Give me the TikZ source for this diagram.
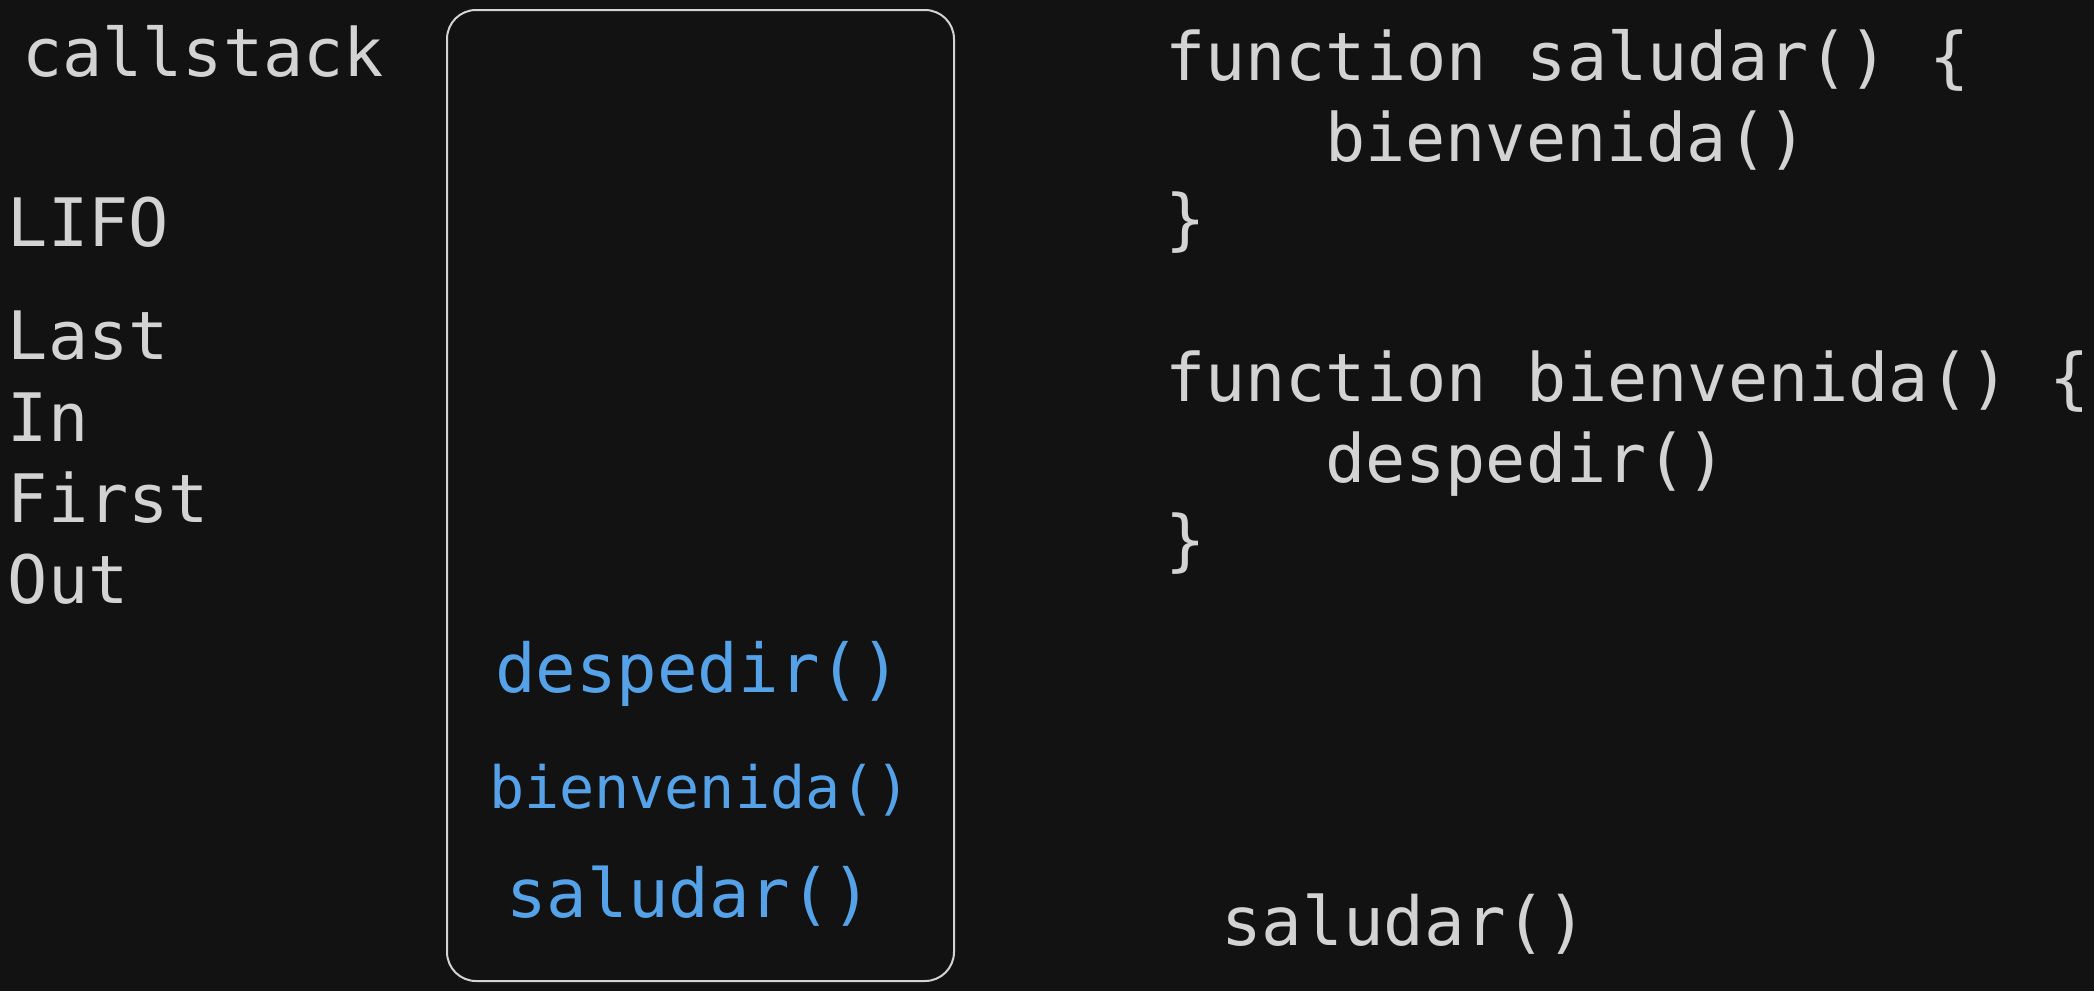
\documentclass[tikz,border=0pt]{standalone}
\usepackage{fontspec}
\newfontfamily\codefont{DejaVu Sans Mono}
\definecolor{bgc}{HTML}{121212}
\definecolor{txt}{HTML}{D3D3D3}
\definecolor{blu}{HTML}{56A2E8}
\tikzset{
  lbl/.style={inner sep=0pt, outer sep=0pt, anchor=base west, text=txt, font=\codefont\fontsize{33.4}{40}\selectfont},
  code/.style={lbl},
  item/.style={inner sep=0pt, outer sep=0pt, anchor=base, text=blu, font=\codefont\fontsize{33.7}{40}\selectfont},
  itemsmall/.style={item, font=\codefont\fontsize{29.2}{34}\selectfont},
  stackbox/.style={draw=txt, line width=1pt, rounded corners=14.5pt, inner sep=0pt,
    minimum width=253.5pt, minimum height=485.5pt}
}
\begin{document}
\begin{tikzpicture}[x=0.5pt,y=-0.5pt]
\fill[bgc] (0,0) rectangle (2094,991);
\useasboundingbox (0,0) rectangle (2094,991);
% left labels
\node[lbl] (callstack) at (22,76) {callstack};
\node[lbl] (lifo) at (8,246) {LIFO};
\node[lbl] (last) at (8,359) {Last};
\node[lbl] (in) at (8,441) {In};
\node[lbl] (first) at (8,522) {First};
\node[lbl] (out) at (8,603) {Out};
% stack box
\node[stackbox] (stack) at (700.5,495.5) {};
\node[item] (despedir) at (698,692) {despedir()};
\node[itemsmall] (bienvenida) at (700,808) {bienvenida()};
\node[item] (saludar) at (689,917) {saludar()};
% code
\node[code] (c1) at (1165,80) {function saludar() \{};
\node[code] (c2) at (1325,161) {bienvenida()};
\node[code] (c3) at (1165,242) {\}};
\node[code] (c4) at (1165,401) {function bienvenida() \{};
\node[code] (c5) at (1325,482) {despedir()};
\node[code] (c6) at (1165,563) {\}};
\node[code, font=\codefont\fontsize{33.8}{40}\selectfont] (call) at (1221,945) {saludar()};
\end{tikzpicture}
\end{document}
